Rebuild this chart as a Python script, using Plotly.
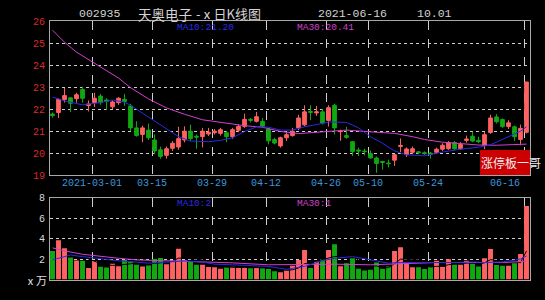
import plotly.graph_objects as go
import pandas as pd

# ---------------- data ----------------
dates = [
    "2021-02-18", "2021-02-19", "2021-02-22", "2021-02-23", "2021-02-24", "2021-02-25", "2021-02-26",
    "2021-03-01", "2021-03-02", "2021-03-03", "2021-03-04", "2021-03-05",
    "2021-03-08", "2021-03-09", "2021-03-10", "2021-03-11", "2021-03-12",
    "2021-03-15", "2021-03-16", "2021-03-17", "2021-03-18", "2021-03-19",
    "2021-03-22", "2021-03-23", "2021-03-24", "2021-03-25", "2021-03-26",
    "2021-03-29", "2021-03-30", "2021-03-31", "2021-04-01", "2021-04-02",
    "2021-04-06", "2021-04-07", "2021-04-08", "2021-04-09",
    "2021-04-12", "2021-04-13", "2021-04-14", "2021-04-15", "2021-04-16",
    "2021-04-19", "2021-04-20", "2021-04-21", "2021-04-22", "2021-04-23",
    "2021-04-26", "2021-04-27", "2021-04-28", "2021-04-29", "2021-04-30",
    "2021-05-06", "2021-05-07",
    "2021-05-10", "2021-05-11", "2021-05-12", "2021-05-13", "2021-05-14",
    "2021-05-17", "2021-05-18", "2021-05-19", "2021-05-20", "2021-05-21",
    "2021-05-24", "2021-05-25", "2021-05-26", "2021-05-27", "2021-05-28",
    "2021-05-31", "2021-06-01", "2021-06-02", "2021-06-03", "2021-06-04",
    "2021-06-07", "2021-06-08", "2021-06-09", "2021-06-10", "2021-06-11",
    "2021-06-15", "2021-06-16",
]

opens = [21.78, 21.85, 22.44, 22.52, 22.48, 22.90, 22.17, 22.30, 22.60, 22.42,
         22.11, 22.30, 22.45, 22.15, 21.15, 20.85, 21.05, 20.60, 20.15, 19.90,
         20.22, 20.28, 20.60, 21.00, 20.77, 20.75, 20.87, 20.93, 20.90, 20.93,
         20.75, 21.04, 21.22, 21.54, 21.45, 21.44, 21.10, 20.62, 20.33, 20.70,
         20.80, 21.15, 21.29, 21.90, 21.83, 21.88, 21.49, 22.18, 20.98, 20.80,
         20.52, 20.14, 20.10, 19.98, 19.78, 19.62, 19.55, 19.68, 20.30, 19.93,
         20.04, 20.06, 20.02, 20.00, 20.04, 20.18, 20.20, 20.48, 20.20, 20.58,
         20.77, 20.58, 20.36, 20.94, 21.65, 21.53, 21.21, 21.20, 20.62, 20.95]
highs = [21.85, 22.50, 22.97, 22.55, 22.75, 23.02, 22.40, 22.75, 22.70, 22.50,
         22.40, 22.55, 22.70, 22.25, 21.45, 21.25, 21.35, 20.85, 20.30, 20.30,
         20.55, 21.20, 21.22, 21.30, 20.85, 21.15, 21.15, 21.10, 21.15, 21.00,
         21.15, 21.30, 21.80, 21.60, 21.88, 21.60, 21.12, 20.70, 20.75, 20.95,
         21.15, 21.75, 22.18, 22.18, 22.15, 22.00, 22.18, 22.25, 21.07, 21.20,
         20.55, 20.25, 20.20, 20.12, 19.85, 19.65, 19.70, 19.97, 20.67, 20.26,
         20.30, 20.10, 20.08, 20.05, 20.25, 20.45, 20.55, 20.55, 20.50, 20.80,
         20.98, 20.75, 20.98, 21.75, 21.78, 21.58, 21.50, 21.25, 21.30, 23.24]
lows = [21.62, 21.60, 22.30, 21.87, 22.30, 22.30, 21.90, 22.10, 22.20, 21.97,
        22.00, 22.20, 22.16, 21.00, 20.75, 20.50, 20.60, 19.95, 19.75, 19.75,
        20.10, 20.15, 20.49, 20.56, 20.20, 20.26, 20.78, 20.85, 20.80, 20.50,
        20.65, 20.95, 21.15, 21.40, 21.40, 21.15, 20.40, 20.40, 20.25, 20.55,
        20.75, 21.05, 21.22, 21.50, 21.70, 21.30, 21.22, 20.85, 20.56, 20.65,
        19.87, 19.87, 19.90, 19.75, 19.10, 19.25, 19.35, 19.42, 20.05, 19.83,
        19.95, 19.95, 19.92, 19.75, 19.98, 20.10, 20.15, 20.12, 20.15, 20.48,
        20.50, 20.45, 20.18, 20.88, 21.35, 21.15, 21.10, 20.55, 20.36, 20.90]
closes = [21.72, 22.45, 22.62, 22.27, 22.66, 22.50, 22.24, 22.50, 22.30, 22.36,
          22.33, 22.50, 22.35, 21.15, 20.80, 21.15, 20.70, 20.10, 19.85, 20.20,
          20.45, 20.66, 21.00, 20.66, 20.73, 21.00, 20.95, 21.00, 21.07, 20.75,
          21.07, 21.22, 21.54, 21.50, 21.66, 21.22, 20.56, 20.46, 20.70, 20.84,
          21.00, 21.60, 21.88, 21.86, 21.88, 21.37, 22.07, 21.15, 21.00, 20.72,
          20.07, 20.10, 20.07, 19.78, 19.53, 19.58, 19.52, 19.93, 20.35, 20.19,
          20.20, 20.02, 19.98, 19.95, 20.18, 20.36, 20.48, 20.20, 20.40, 20.64,
          20.55, 20.52, 20.84, 21.60, 21.43, 21.21, 21.38, 20.75, 21.13, 23.24]
volumes = [2.79, 3.85, 3.05, 2.15, 1.86, 1.83, 1.12, 1.80, 1.25, 1.18,
           1.55, 1.30, 1.92, 1.73, 1.44, 1.28, 1.38, 2.00, 2.10, 1.50,
           1.90, 3.00, 1.92, 1.77, 1.44, 1.44, 1.22, 1.19, 1.06, 1.19,
           1.25, 1.19, 1.22, 1.09, 1.22, 1.09, 1.03, 0.80, 0.70, 0.90,
           1.35, 1.92, 2.88, 1.12, 1.77, 2.00, 2.88, 3.46, 1.30, 1.60,
           2.08, 1.06, 0.87, 0.96, 1.67, 1.06, 1.28, 2.79, 3.17, 1.60,
           1.19, 1.19, 1.03, 1.19, 1.83, 1.22, 1.99, 1.48, 1.44, 1.83,
           1.54, 1.28, 2.08, 2.98, 1.41, 1.35, 1.35, 1.60, 2.50, 7.20]

# moving averages (index into dates, value)
ma30_idx = [0, 2, 4, 7, 8, 11, 13, 16, 19, 22, 25, 27, 30, 32, 35, 38, 41, 44, 46, 49,
            52, 55, 57, 60, 62, 65, 68, 71, 74, 76, 79]
ma30_val = [25.60, 25.05, 24.60, 24.10, 23.92, 23.42, 22.98, 22.47, 22.06, 21.77, 21.52,
            21.45, 21.34, 21.25, 21.18, 20.99, 20.89, 20.95, 21.02, 21.05, 20.99, 20.93,
            20.90, 20.75, 20.62, 20.50, 20.45, 20.37, 20.36, 20.38, 20.41]
ma10_idx = [0, 2, 5, 8, 10, 12, 13, 16, 19, 21, 23, 26, 28, 30, 32, 34, 36, 38, 40, 42,
            44, 46, 49, 51, 53, 55, 57, 59, 62, 65, 68, 71, 73, 76, 78, 79]
ma10_val = [22.55, 22.38, 22.20, 22.30, 22.42, 22.32, 22.18, 21.64, 21.10, 20.75, 20.55,
            20.52, 20.58, 20.70, 20.98, 21.20, 21.18, 21.05, 21.05, 21.20, 21.30, 21.42,
            21.40, 21.15, 20.75, 20.45, 20.10, 19.92, 19.88, 20.05, 20.18, 20.27, 20.38,
            20.75, 21.00, 21.20]
vma30_idx = [0, 2, 5, 8, 11, 14, 19, 25, 30, 36, 42, 47, 53, 58, 64, 70, 75, 78, 79]
vma30_val = [3.10, 2.80, 2.47, 2.24, 2.08, 1.92, 1.83, 1.70, 1.63, 1.44, 1.50, 1.50,
             1.44, 1.57, 1.66, 1.66, 1.66, 1.75, 1.83]
vma10_idx = [0, 3, 5, 8, 11, 14, 16, 19, 22, 25, 27, 30, 36, 39, 42, 45, 47, 50, 53, 56,
             58, 61, 64, 67, 70, 72, 75, 78, 79]
vma10_val = [1.92, 2.40, 2.24, 2.00, 1.83, 1.70, 1.60, 1.70, 1.83, 1.70, 1.50, 1.44, 1.28,
             1.00, 1.28, 1.83, 2.08, 2.24, 1.92, 1.60, 1.66, 1.66, 1.60, 1.66, 1.72, 1.66,
             1.72, 2.00, 2.30]

tick_dates = ["2021-03-01", "2021-03-15", "2021-03-29", "2021-04-12",
              "2021-04-26", "2021-05-10", "2021-05-24", "2021-06-16"]
tick_labels = ["2021-03-01", "03-15", "03-29", "04-12", "04-26", "05-10", "05-24", "06-16"]

title_code = "002935"
title_name = "天奥电子"
title_kind = "-ⅹ日K线图"
title_date = "2021-06-16"
title_pct = "10.01"
ma10_label = "MA10:21.20"
ma30_label = "MA30:20.41"
vma10_label = "MA10:2"
vma30_label = "MA30:1"
vol_unit = "ⅹ万"
badge_text = "涨停板一哥"

# ---------------- style ----------------
W, H = 545, 300
UP = "#ff6262"
DN = "#12a812"
BLUE = "#2a2ae0"
MAG = "#d040d0"
FRAME = "#a8a8a8"
GRID = "#cfcfcf"
MONO = "Liberation Mono"
CJK = "Noto Sans CJK SC"

L, R = 50, 530
MAIN_T, MAIN_B = 18, 177
VOL_T, VOL_B = 200.5, 285

def px(xp):
    return xp / W

def py(yp):
    return 1 - yp / H

idx = list(range(len(dates)))
pos = {d: i for i, d in enumerate(dates)}
grid_x = [pos[d] - 0.35 for d in tick_dates]
xr = [-0.42, len(dates) - 0.42]

fig = go.Figure()
fig.add_trace(go.Candlestick(
    x=idx, open=opens, high=highs, low=lows, close=closes,
    increasing=dict(line=dict(color=UP, width=1), fillcolor=UP),
    decreasing=dict(line=dict(color=DN, width=1), fillcolor=DN),
    whiskerwidth=0, hoverinfo="skip", xaxis="x", yaxis="y"))
fig.add_trace(go.Scatter(x=ma30_idx, y=ma30_val, mode="lines",
                         line=dict(color=MAG, width=1), hoverinfo="skip", xaxis="x", yaxis="y"))
fig.add_trace(go.Scatter(x=ma10_idx, y=ma10_val, mode="lines",
                         line=dict(color=BLUE, width=1), hoverinfo="skip", xaxis="x", yaxis="y"))

vol_colors = [UP if c >= o else DN for o, c in zip(opens, closes)]
fig.add_trace(go.Bar(x=idx, y=volumes, width=0.82,
                     marker=dict(color=vol_colors, line=dict(width=0)),
                     hoverinfo="skip", xaxis="x2", yaxis="y2"))
vma5 = pd.Series(volumes).rolling(5).mean()
fig.add_trace(go.Scatter(x=idx, y=vma5, mode="lines", line=dict(color="#000000", width=1),
                         hoverinfo="skip", xaxis="x2", yaxis="y2"))
fig.add_trace(go.Scatter(x=vma30_idx, y=vma30_val, mode="lines",
                         line=dict(color=MAG, width=1), hoverinfo="skip", xaxis="x2", yaxis="y2"))
fig.add_trace(go.Scatter(x=vma10_idx, y=vma10_val, mode="lines",
                         line=dict(color=BLUE, width=1), hoverinfo="skip", xaxis="x2", yaxis="y2"))

xcommon = dict(domain=[px(L), px(R)], range=xr, tickvals=grid_x, showticklabels=False,
               ticks="", showgrid=True, gridcolor=GRID, griddash="dash", gridwidth=1,
               showline=True, mirror=True, linecolor=FRAME, linewidth=1, zeroline=False,
               fixedrange=True)

fig.update_layout(
    width=W, height=H, margin=dict(l=0, r=0, t=0, b=0),
    paper_bgcolor="#000000", plot_bgcolor="#000000", showlegend=False,
    boxgap=0.12, bargap=0.15,
    xaxis=dict(**xcommon, anchor="y", rangeslider=dict(visible=False)),
    xaxis2=dict(**xcommon, anchor="y2"),
    yaxis=dict(domain=[py(MAIN_B), py(MAIN_T)], range=[19, 26],
               tickvals=[19, 20, 21, 22, 23, 24, 25, 26], ticks="",
               tickfont=dict(family=MONO, size=10, color="#dc2828"),
               showgrid=True, gridcolor=GRID, griddash="dot", gridwidth=1,
               showline=True, mirror=True, linecolor=FRAME, linewidth=1,
               zeroline=False, anchor="x", ticklabelstandoff=2),
    yaxis2=dict(domain=[py(VOL_B), py(VOL_T)], range=[0, 8],
                tickvals=[2, 4, 6, 8], ticks="",
                tickfont=dict(family=MONO, size=10, color="#d8d8d8"),
                showgrid=True, gridcolor=GRID, griddash="dot", gridwidth=1,
                showline=True, mirror=True, linecolor=FRAME, linewidth=1,
                zeroline=False, anchor="x2", ticklabelstandoff=2),
)

ann = []
# date labels under main chart
for gx, lab in zip(grid_x, tick_labels):
    last = lab == tick_labels[-1]
    ann.append(dict(x=gx, y=py(186), xref="x", yref="paper", text=lab, showarrow=False,
                    xanchor="right" if last else "center", yanchor="middle",
                    xshift=-2 if last else 0,
                    font=dict(family=MONO, size=10, color="#3c96dc")))
# title line
title_parts = [
    (title_code, 100, MONO, 11.5),
    (title_name, 165, CJK, 13.5),
    (title_kind, 228, CJK, 13),
    (title_date, 352, MONO, 11.5),
    (title_pct, 434, MONO, 11.5),
]
for txt, cx, fam, sz in title_parts:
    ann.append(dict(x=px(cx), y=py(10), xref="paper", yref="paper", text=txt, showarrow=False,
                    xanchor="center", yanchor="middle",
                    font=dict(family=fam, size=sz, color="#d4d4d4")))
# MA labels
for txt, lx, ly, col in [(ma10_label, 175, 24, BLUE), (ma30_label, 295, 24, MAG),
                         (vma10_label, 175, 206, BLUE), (vma30_label, 295, 206, MAG)]:
    ann.append(dict(x=px(lx), y=py(ly), xref="paper", yref="paper", text=txt, showarrow=False,
                    xanchor="left", yanchor="middle",
                    font=dict(family=MONO, size=9.5, color=col)))
# volume unit
ann.append(dict(x=px(36), y=py(286), xref="paper", yref="paper", text=vol_unit, showarrow=False,
                xanchor="center", yanchor="middle", font=dict(family=CJK, size=11, color="#e0e0e0")))
# badge
ann.append(dict(x=px(510.5), y=py(164), xref="paper", yref="paper", text=badge_text,
                showarrow=False, xanchor="center", yanchor="middle",
                font=dict(family=CJK, size=12, color="#ececec")))
fig.update_layout(annotations=ann)

fig.add_shape(type="rect", xref="paper", yref="paper",
              x0=px(480), x1=px(R), y0=py(MAIN_B), y1=py(151),
              fillcolor="#cc0000", line=dict(width=0), layer="above")

fig.write_html("out.html")
